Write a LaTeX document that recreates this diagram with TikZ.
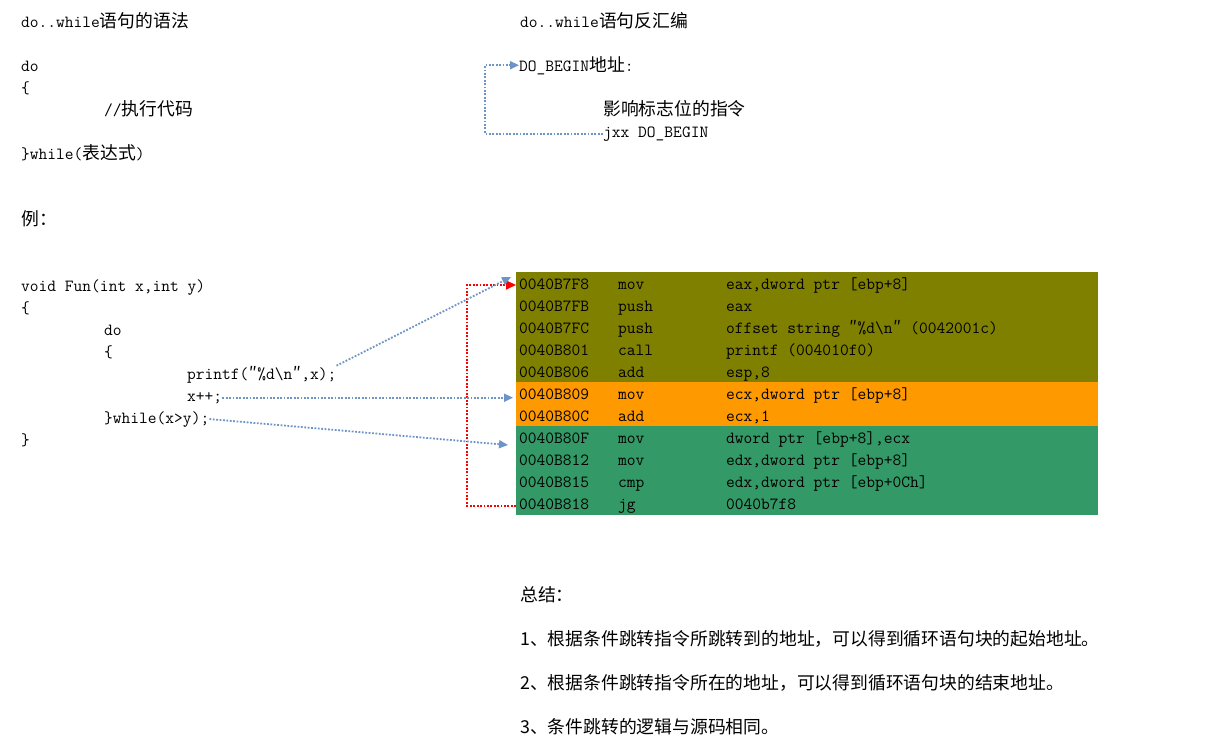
\documentclass[tikz,border=0pt]{standalone}
\usepackage{fontspec}
\usepackage{xcolor}
\usetikzlibrary{arrows.meta, positioning}
\newfontfamily\cjk{Noto Sans CJK SC}
\newcommand\zh[1]{{\cjk\fontsize{17.8}{22}\selectfont #1}}
\newcommand\dq{\makebox[8.9pt][c]{\cjk ″}}
\newcommand\asm[3]{\makebox[99pt][l]{#1}\makebox[108pt][l]{#2}#3}
\definecolor{asmolive}{RGB}{128,128,0}
\definecolor{asmorange}{RGB}{255,153,0}
\definecolor{asmgreen}{RGB}{51,153,102}
\definecolor{mapblue}{RGB}{108,148,198}

\begin{document}
\begin{tikzpicture}[
  x=1pt, y=-1pt,
  every node/.style={font=\fontsize{17}{22}\selectfont\ttfamily},
  code/.style={anchor=base west, inner sep=0pt},
  asmrow/.style={anchor=base west, inner xsep=3pt, inner ysep=0pt},
  block/.style={anchor=north west, inner sep=0pt, outer sep=0pt,
                minimum width=582pt},
  mapline/.style={draw=mapblue, line width=1.8pt,
                  dash pattern=on 1.8pt off 1.6pt,
                  -{Triangle[length=9pt,width=8pt]}},
  jumpline/.style={draw=red, line width=1.8pt,
                   dash pattern=on 1.8pt off 1.6pt,
                   -{Triangle[length=10pt,width=9pt]}},
]
\useasboundingbox (0,0) rectangle (1207,745);

% syntax
\node[code] (synTitle) at (21,27)  {do..while\zh{语句的语法}};
\node[code] (synDo)    at (21,71)  {do};
\node[code] (synOpen)  at (21,93)  {\{};
\node[code] (synBody)  at (104,115){//\zh{执行代码}};
\node[code] (synClose) at (21,159) {\}while(\zh{表达式})};
\node[code] (exLabel)  at (21,225) {\zh{例：}};

% example function
\node[code] (fun)       at (21,291)  {void Fun(int x,int y)};
\node[code] (funOpen)   at (21,313)  {\{};
\node[code] (loopDo)    at (104,335) {do};
\node[code] (loopOpen)  at (104,357) {\{};
\node[code] (printf)    at (187,379) {printf(\dq\%d\textbackslash n\dq,x);};
\node[code] (xpp)       at (187,401) {x++;};
\node[code] (loopWhile) at (104,423) {\}while(x>y);};
\node[code] (funClose)  at (21,445)  {\}};

% disassembly pattern
\node[code] (asmTitle) at (520,27)  {do..while\zh{语句反汇编}};
\node[code] (doBegin)  at (519,71)  {DO\_BEGIN\zh{地址}:};
\node[code] (flags)    at (603,115) {\zh{影响标志位的指令}};
\node[code] (jxx)      at (603,137) {jxx DO\_BEGIN};

% listing
\node[block, fill=asmolive,  minimum height=110pt] (blkA) at (516,272) {};
\node[block, fill=asmorange, minimum height=44pt]  (blkB) at (516,382) {};
\node[block, fill=asmgreen,  minimum height=89pt]  (blkC) at (516,426) {};

\node[asmrow] (r1)  at (516,289) {\asm{0040B7F8}{mov}{eax,dword ptr [ebp+8]}};
\node[asmrow] (r2)  at (516,311) {\asm{0040B7FB}{push}{eax}};
\node[asmrow] (r3)  at (516,333) {\asm{0040B7FC}{push}{offset string \dq\%d\textbackslash n\dq{} (0042001c)}};
\node[asmrow] (r4)  at (516,355) {\asm{0040B801}{call}{printf (004010f0)}};
\node[asmrow] (r5)  at (516,377) {\asm{0040B806}{add}{esp,8}};
\node[asmrow] (r6)  at (516,399) {\asm{0040B809}{mov}{ecx,dword ptr [ebp+8]}};
\node[asmrow] (r7)  at (516,421) {\asm{0040B80C}{add}{ecx,1}};
\node[asmrow] (r8)  at (516,443) {\asm{0040B80F}{mov}{dword ptr [ebp+8],ecx}};
\node[asmrow] (r9)  at (516,465) {\asm{0040B812}{mov}{edx,dword ptr [ebp+8]}};
\node[asmrow] (r10) at (516,487) {\asm{0040B815}{cmp}{edx,dword ptr [ebp+0Ch]}};
\node[asmrow] (r11) at (516,509) {\asm{0040B818}{jg}{0040b7f8}};

% summary
\node[code] (sumTitle) at (520,601) {\zh{总结：}};
\node[code] (sum1) at (520,645) {\zh{1、根据条件跳转指令所跳转到的地址，可以得到循环语句块的起始地址。}};
\node[code] (sum2) at (520,689) {\zh{2、根据条件跳转指令所在的地址，可以得到循环语句块的结束地址。}};
\node[code] (sum3) at (520,733) {\zh{3、条件跳转的逻辑与源码相同。}};

% connectors
\draw[mapline] (jxx.west) -- ++(-118,0) |- (doBegin.west);
\draw[jumpline] (r11.west) -- ++(-49,0) |- (r1.west);
\draw[mapline] (printf.north east) -- ([shift={(-5,5)}]blkA.north west);
\draw[mapline, shorten >=3pt] (xpp.east) -- (xpp.east -| blkB.west);
\draw[mapline] (loopWhile.east) -- ([shift={(-8,19)}]blkC.north west);
\end{tikzpicture}
\end{document}
